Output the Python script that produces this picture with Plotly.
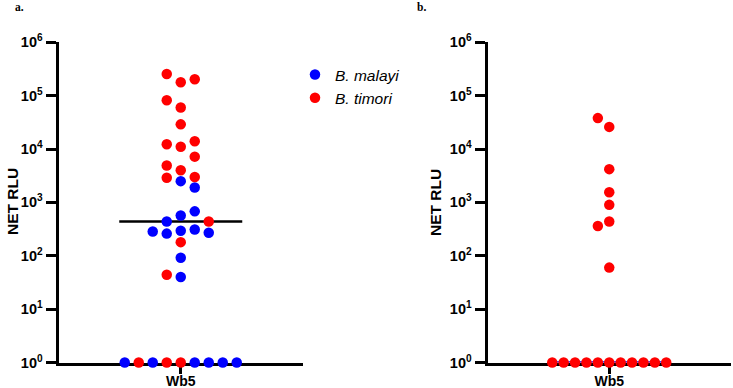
import numpy as np
import plotly.graph_objects as go

# ---------------- data ----------------
# Panel a: Wb5 NET RLU, per sample (order = placement order in the swarm)
a_values = [1.78e5, 2.55e5, 2.03e5, 6.0e4, 8.2e4, 2.9e4, 1.1e4, 1.23e4, 1.4e4,
            4.0e3, 4.9e3, 7.2e3, 2.9e3, 3.0e3, 2.5e3, 1.9e3, 570, 440, 680,
            295, 260, 310, 285, 270, 440, 180, 92, 40, 44,
            1, 1, 1, 1, 1, 1, 1, 1, 1]
a_species = ["T", "T", "T", "T", "T", "T", "T", "T", "T",
             "T", "T", "T", "T", "T", "M", "M", "M", "M", "M",
             "M", "M", "M", "M", "M", "T", "T", "M", "M", "T",
             "T", "T", "M", "M", "M", "T", "M", "M", "M"]
# Panel b: Wb5 NET RLU, B. timori only
b_values = [2.6e4, 3.8e4, 4.2e3, 1.55e3, 900, 440, 360, 60,
            1, 1, 1, 1, 1, 1, 1, 1, 1, 1, 1]

category = "Wb5"
species_names = {"M": "B. malayi", "T": "B. timori"}
species_colors = {"M": "#0000ff", "T": "#ff0000"}
tick_exponents = [0, 1, 2, 3, 4, 5, 6]

# ---------------- layout geometry (px) ----------------
W, H = 733, 388
ax_a = (58.5, 303.0)
ax_b = (487.5, 731.0)
y_top, y_bot = 42.3, 362.5


def swarm(values, step, min_gap=0.193):
    """Greedy slot beeswarm in log10 space."""
    placed = []
    offsets = []
    order = [0]
    for k in range(1, 40):
        order += [-k, k]
    for v in values:
        lv = np.log10(v)
        for c in order:
            if all(not (s == c and abs(l - lv) < min_gap) for s, l in placed):
                placed.append((c, lv))
                offsets.append(c * step)
                break
    return offsets


a_x = swarm(a_values, 14.0)
b_x = swarm(b_values, 11.4)

fig = go.Figure()

# median lines
a_med = float(np.median(a_values))
b_med = float(np.median(b_values))
fig.add_trace(go.Scatter(x=[-61.5, 61.5], y=[a_med, a_med], mode="lines",
                         line=dict(color="black", width=2.5), showlegend=False,
                         xaxis="x", yaxis="y", hoverinfo="skip", cliponaxis=False))
fig.add_trace(go.Scatter(x=[-55, 55], y=[b_med, b_med], mode="lines",
                         line=dict(color="#0000ff", width=2.5), showlegend=False,
                         xaxis="x2", yaxis="y2", hoverinfo="skip", cliponaxis=False))

for sp in ["M", "T"]:
    xs = [x for x, s in zip(a_x, a_species) if s == sp]
    ys = [v for v, s in zip(a_values, a_species) if s == sp]
    fig.add_trace(go.Scatter(
        x=xs, y=ys, mode="markers", name="<i>" + species_names[sp] + "</i>",
        legendgroup=sp,
        marker=dict(color=species_colors[sp], size=10.5, line=dict(width=0)),
        xaxis="x", yaxis="y", cliponaxis=False))

fig.add_trace(go.Scatter(
    x=b_x, y=b_values, mode="markers", name=species_names["T"], showlegend=False,
    marker=dict(color=species_colors["T"], size=10.5, line=dict(width=0)),
    xaxis="x2", yaxis="y2", cliponaxis=False))

ticktext = ["10<sup>%d</sup>" % e for e in tick_exponents]
tickvals = [10 ** e for e in tick_exponents]

yax = dict(type="log", range=[0, 6], tickvals=tickvals, ticktext=ticktext,
           showline=True, linewidth=3, linecolor="black",
           ticks="outside", ticklen=10, tickwidth=2.5, tickcolor="black",
           showgrid=False, zeroline=False, layer="below traces", automargin=False,
           tickfont=dict(family="Liberation Sans", size=14.5, color="black", weight="bold"),
           domain=[1 - y_bot / H, 1 - y_top / H], fixedrange=True)
xax = dict(showline=True, linewidth=3, linecolor="black",
           ticks="outside", ticklen=8, tickwidth=2.5, tickcolor="black",
           tickvals=[0], ticktext=[category], ticklabelstandoff=-4, automargin=False,
           showgrid=False, zeroline=False, layer="below traces",
           tickfont=dict(family="Liberation Sans", size=14, color="black", weight="bold"))

fig.update_layout(
    width=W, height=H, autosize=False,
    margin=dict(l=0, r=0, t=0, b=0, pad=0),
    paper_bgcolor="white", plot_bgcolor="white",
    xaxis=dict(xax, domain=[ax_a[0] / W, ax_a[1] / W],
               range=[-(ax_a[1] - ax_a[0]) / 2, (ax_a[1] - ax_a[0]) / 2], anchor="y"),
    yaxis=dict(yax, anchor="x"),
    xaxis2=dict(xax, domain=[ax_b[0] / W, ax_b[1] / W],
                range=[-(ax_b[1] - ax_b[0]) / 2, (ax_b[1] - ax_b[0]) / 2], anchor="y2"),
    yaxis2=dict(yax, anchor="x2"),
    showlegend=True,
    legend=dict(x=295 / W, y=1 - 58 / H, xanchor="left", yanchor="top",
                font=dict(family="Liberation Sans", size=15.5, color="black"),
                tracegroupgap=0, bgcolor="rgba(0,0,0,0)", borderwidth=0),
    annotations=[
        dict(text="<b>NET RLU</b>", x=12 / W, y=1 - 202 / H, xref="paper", yref="paper",
             textangle=-90, showarrow=False, xanchor="center", yanchor="middle",
             font=dict(family="Liberation Sans", size=15.5, color="black")),
        dict(text="<b>NET RLU</b>", x=435 / W, y=1 - 202 / H, xref="paper", yref="paper",
             textangle=-90, showarrow=False, xanchor="center", yanchor="middle",
             font=dict(family="Liberation Sans", size=15.5, color="black")),
        dict(text="<b>a.</b>", x=19.5 / W, y=1 - 7 / H, xref="paper", yref="paper",
             showarrow=False, xanchor="center", yanchor="middle",
             font=dict(family="Liberation Serif", size=11.5, color="black")),
        dict(text="<b>b.</b>", x=421 / W, y=1 - 7 / H, xref="paper", yref="paper",
             showarrow=False, xanchor="center", yanchor="middle",
             font=dict(family="Liberation Serif", size=11.5, color="black")),
    ],
)

fig.write_html("out.html")
